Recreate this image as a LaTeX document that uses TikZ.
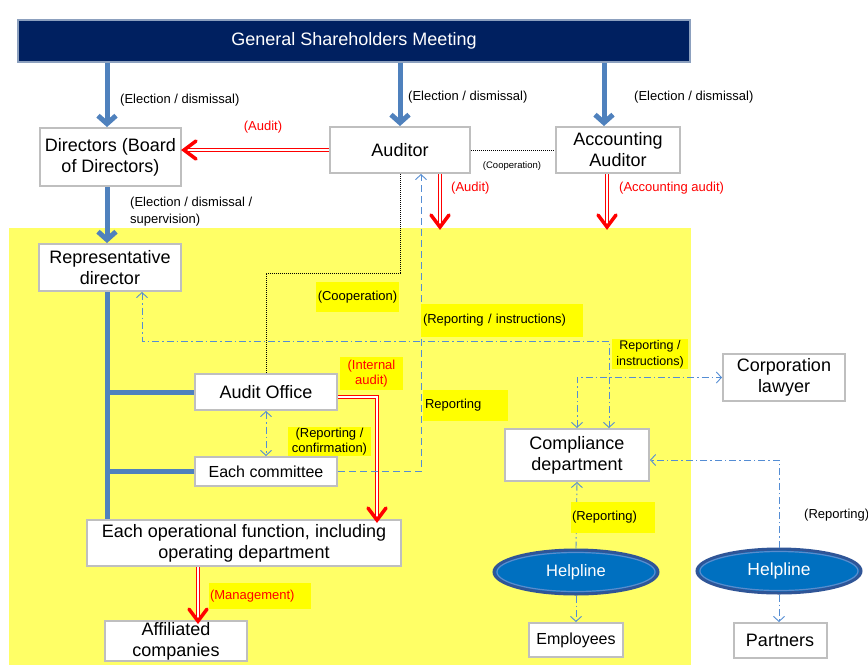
\documentclass[tikz,border=0pt]{standalone}
\usepackage{fontspec}
\setmainfont{Liberation Sans}
\usetikzlibrary{arrows.meta,shapes.geometric,calc}
\definecolor{bgyel}{RGB}{255,255,102}
\definecolor{hlyel}{RGB}{255,255,0}
\definecolor{navy}{RGB}{0,32,96}
\definecolor{navyrim}{RGB}{140,160,190}
\definecolor{steel}{RGB}{79,129,189}
\definecolor{thinblue}{RGB}{84,141,212}
\definecolor{boxgray}{RGB}{191,191,191}
\definecolor{hlfill}{RGB}{0,112,192}
\definecolor{hlrim}{RGB}{47,85,151}
\definecolor{hlringc}{RGB}{90,140,205}
\definecolor{redc}{RGB}{255,0,0}
\begin{document}
\begin{tikzpicture}[x=1pt,y=-1pt,
  >={Straight Barb[length=5pt,width=11pt]},
  box/.style={draw=boxgray, line width=2pt, fill=white, align=center, inner sep=1pt, font=\fontsize{18}{21}\selectfont},
  lab/.style={font=\fontsize{13}{17}\selectfont, inner sep=1pt},
  hl/.style={fill=hlyel, font=\fontsize{13}{15.5}\selectfont, inner sep=1pt},
  bluearrow/.style={draw=steel, line width=5pt, -{Straight Barb[length=8pt,width=18pt]}},
  blueline/.style={draw=steel, line width=5pt},
  redshaft/.style={draw=redc, line width=1.4pt, double=white, double distance=2pt},
  redv/.style={draw=redc, line width=3.5pt, line join=miter, miter limit=3, line cap=round},
  dd/.style={draw=thinblue, line width=0.9pt, dash pattern=on 7pt off 3pt on 1.5pt off 3pt},
  dashblue/.style={draw=thinblue, line width=0.9pt, dash pattern=on 7pt off 4pt},
  dotline/.style={draw=black, line width=0.8pt, dash pattern=on 1pt off 1pt},
  hlell/.style={ellipse, fill=hlfill, draw=hlrim, line width=3pt, text=white, inner sep=0pt},
  hlring/.style={draw=hlringc, line width=1.2pt}
]
\useasboundingbox (0,0) rectangle (868,665);
\fill[white] (0,0) rectangle (868,665);
\fill[bgyel] (9,228) rectangle (691,665);

% boxes
\node[box, fill=navy, draw=navyrim, line width=1.5pt, text=white, minimum width=672pt, minimum height=42pt] (gsm) at (354,41) {General Shareholders Meeting};
\node[box, minimum width=141pt, minimum height=58pt] (dir) at (110.5,157) {Directors (Board\\of Directors)};
\node[box, minimum width=140pt, minimum height=46pt] (aud) at (400,150) {Auditor};
\node[box, minimum width=124pt, minimum height=46pt] (acc) at (618,150) {Accounting\\Auditor};
\node[box, minimum width=142pt, minimum height=47pt] (rep) at (110,267.5) {Representative\\director};
\node[box, minimum width=142pt, minimum height=36pt] (ao) at (266,392) {Audit Office};
\node[box, minimum width=142pt, minimum height=29pt, font=\fontsize{16}{19}\selectfont] (ec) at (266,471.5) {Each committee};
\node[box, minimum width=314pt, minimum height=46pt] (eof) at (244,543) {Each operational function, including\\operating department};
\node[box, minimum width=142pt, minimum height=38pt] (aff) at (176,641) {Affiliated\\companies};
\node[box, minimum width=122pt, minimum height=47pt] (cl) at (784,377.5) {Corporation\\lawyer};
\node[box, minimum width=144pt, minimum height=52pt] (cd) at (577,455) {Compliance\\department};
\node[box, minimum width=94pt, minimum height=34pt, font=\fontsize{16}{19}\selectfont] (emp) at (576,640) {Employees};
\node[box, minimum width=93pt, minimum height=35pt] (par) at (780,640.5) {Partners};

\node[hlell, minimum width=164pt, minimum height=44pt, font=\fontsize{16.5}{18}\selectfont] (hl1) at (576,572) {Helpline};
\draw[hlring] (hl1.center) ellipse [x radius=79, y radius=19.5];
\node[hlell, minimum width=164pt, minimum height=44pt, font=\fontsize{17.5}{19}\selectfont] (hl2) at (779,571) {Helpline};
\draw[hlring] (hl2.center) ellipse [x radius=79, y radius=19.5];

% helper coordinates
\coordinate (tx) at (107,0);
\coordinate (ax) at (604,0);
\coordinate (rx1) at (440,227);
\coordinate (rx2) at (607,227);
\coordinate (dA) at ([xshift=2pt]aud.west -| dir.east);
\coordinate (ia) at ([xshift=133pt,yshift=-1pt]eof.north);
\coordinate (mg) at ([xshift=-46pt]eof.south);
\coordinate (mg2) at ([yshift=-1pt]mg |- aff.north);

% thick blue
\draw[bluearrow] (gsm.south -| tx) -- (dir.north -| tx);
\draw[bluearrow] (gsm.south -| aud.north) -- (aud.north);
\draw[bluearrow] (gsm.south -| ax) -- (acc.north -| ax);
\draw[bluearrow] (dir.south -| tx) -- (rep.north -| tx);
\draw[blueline] (rep.south -| tx) -- (eof.north -| tx);
\draw[blueline] (ao.west) -- (ao.west -| tx);
\draw[blueline] (ec.west) -- (ec.west -| tx);

% red double arrows
\draw[redshaft] (aud.west) -- (dA);
\draw[redv] ($(dA)+(12,-9)$) -- (dA) -- ($(dA)+(12,9)$);
\draw[redshaft] (aud.south -| rx1) -- (rx1);
\draw[redv] ($(rx1)+(-9,-12)$) -- (rx1) -- ($(rx1)+(9,-12)$);
\draw[redshaft] (acc.south -| rx2) -- (rx2);
\draw[redv] ($(rx2)+(-9,-12)$) -- (rx2) -- ($(rx2)+(9,-12)$);
\draw[redshaft] ([yshift=-5pt]ao.east) -| (ia);
\draw[redv] ($(ia)+(-9,-12)$) -- (ia) -- ($(ia)+(9,-12)$);
\draw[redshaft] (mg) -- (mg2);
\draw[redv] ($(mg2)+(-9,-12)$) -- (mg2) -- ($(mg2)+(9,-12)$);

% dotted
\draw[dotline] (aud.east) -- (acc.west);
\draw[dotline] (aud.south) -- ++(0,99) -| (ao.north);

% dashed blue
\draw[dashblue, ->] (ec.east) -| ([xshift=21pt]aud.south);

% dash-dot blue
\draw[dd, <->] ([xshift=32pt]rep.south) -- ++(0,49) -| ([xshift=32pt]cd.north);
\draw[dd, <->] (cd.north) |- (cl.west);
\draw[dd, ->] (hl2.north) |- ([yshift=-5pt]cd.east);
\draw[dd, ->] (hl1.north) -- (cd.south);
\draw[dd, ->] (hl1.south) -- (emp.north);
\draw[dd, ->] (hl2.south) -- (hl2.south |- par.north);
\draw[dd, <->] (ao.south) -- (ec.north);

% labels
\node[lab, anchor=west] (le1) at (119,100) {(Election / dismissal)};
\node[lab, anchor=west] (le2) at (407,97) {(Election / dismissal)};
\node[lab, anchor=west] (le3) at (633,97) {(Election / dismissal)};
\node[lab, text=redc] (la1) at (263,127) {(Audit)};
\node[font=\fontsize{9.5}{11}\selectfont, inner sep=1pt] (lc1) at (512,166) {(Cooperation)};
\node[lab, text=redc, anchor=west] (la2) at (450,188) {(Audit)};
\node[lab, text=redc, anchor=west] (la3) at (618,188) {(Accounting audit)};
\node[lab, anchor=west, align=left] (le4) at (129,212) {(Election / dismissal /\\supervision)};
\node[lab, anchor=west] (lrep3) at (803,515) {(Reporting)};

% highlighted labels
\node[hl, minimum width=83pt, minimum height=30pt] (hcoop) at (357.5,297) {(Cooperation)};
\node[hl, minimum width=162pt, minimum height=33pt, text width=158pt, align=left] (hri) at (502,320.5) {(Reporting / instructions)};
\node[hl, minimum width=76pt, minimum height=30pt, align=center, font=\fontsize{12.5}{16}\selectfont] (hri2) at (650,354) {Reporting /\\instructions)};
\node[hl, text=redc, minimum width=63pt, minimum height=33pt, align=center] (hint) at (371.5,373.5) {(Internal\\audit)};
\node[hl, minimum width=85pt, minimum height=31pt, text width=81pt, align=left] (hrep) at (465.5,405.5) {Reporting};
\node[hl, minimum width=83pt, minimum height=29pt, align=center] (hrc) at (329.5,441.5) {(Reporting /\\confirmation)};
\node[hl, text=redc, minimum width=102pt, minimum height=26pt, text width=100pt, align=left] (hmg) at (260,596) {(Management)};
\node[hl, minimum width=84pt, minimum height=31pt, text width=82pt, align=left] (hrep2) at (613,517.5) {(Reporting)};
\end{tikzpicture}
\end{document}
